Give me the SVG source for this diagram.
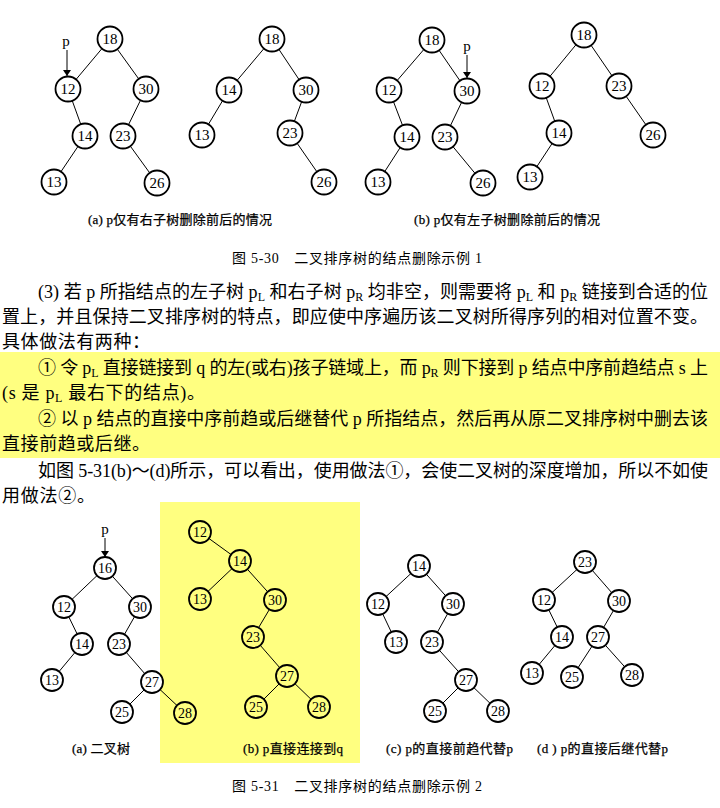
<svg xmlns="http://www.w3.org/2000/svg" width="720" height="808" viewBox="0 0 720 808">
<style>
.e{stroke:#000;stroke-width:1;fill:none}
.n circle{fill:#fff;stroke:#000;stroke-width:1.8}
.y circle{fill:#FFFF80}
.n text{font-family:"Liberation Serif",serif;font-size:15px;text-anchor:middle;dominant-baseline:central}
.s text{font-size:14px}
.t{font-family:"Liberation Serif","Noto Sans CJK SC",serif;font-size:18px;fill:#000}
.c{font-family:"Liberation Serif","Noto Sans CJK SC",serif;font-size:13px;fill:#000;stroke:#000;stroke-width:0.25}
.f{font-family:"Liberation Serif","Noto Sans CJK SC",serif;font-size:14px;fill:#000}
.pl{font-family:"Liberation Serif",serif;font-size:15px;text-anchor:middle}
</style>
<defs>
<marker id="ah" viewBox="0 0 6 10" refX="6" refY="5" markerWidth="6" markerHeight="10" orient="auto" markerUnits="userSpaceOnUse">
<path d="M0,1 L6,5 L0,9 Z" fill="#000"/>
</marker>
</defs>
<rect x="0" y="0" width="720" height="808" fill="#fff"/>
<rect x="0" y="352" width="720" height="106" fill="#FFFF80"/>
<rect x="160" y="502" width="200" height="261" fill="#FFFF80"/>

<g id="connectors">
<line class="e" x1="110" y1="39" x2="68" y2="89"/>
<line class="e" x1="110" y1="39" x2="146" y2="89"/>
<line class="e" x1="68" y1="89" x2="85" y2="136"/>
<line class="e" x1="85" y1="136" x2="54" y2="182"/>
<line class="e" x1="146" y1="89" x2="123" y2="136"/>
<line class="e" x1="123" y1="136" x2="157" y2="183"/>
<line class="e" x1="67" y1="50" x2="67" y2="76" marker-end="url(#ah)"/>
<line class="e" x1="272" y1="39" x2="229" y2="90"/>
<line class="e" x1="272" y1="39" x2="306" y2="90"/>
<line class="e" x1="229" y1="90" x2="202" y2="135"/>
<line class="e" x1="306" y1="90" x2="290" y2="133"/>
<line class="e" x1="290" y1="133" x2="324" y2="182"/>
<line class="e" x1="432" y1="40" x2="389" y2="90"/>
<line class="e" x1="432" y1="40" x2="467" y2="91"/>
<line class="e" x1="389" y1="90" x2="407" y2="137"/>
<line class="e" x1="407" y1="137" x2="378" y2="182"/>
<line class="e" x1="467" y1="91" x2="445" y2="137"/>
<line class="e" x1="445" y1="137" x2="483" y2="183"/>
<line class="e" x1="467" y1="55" x2="467" y2="78" marker-end="url(#ah)"/>
<line class="e" x1="584" y1="35" x2="542" y2="86"/>
<line class="e" x1="584" y1="35" x2="619" y2="86"/>
<line class="e" x1="542" y1="86" x2="559" y2="133"/>
<line class="e" x1="559" y1="133" x2="530" y2="177"/>
<line class="e" x1="619" y1="86" x2="653" y2="135"/>
<line class="e" x1="105" y1="568" x2="64" y2="607"/>
<line class="e" x1="105" y1="568" x2="140" y2="607"/>
<line class="e" x1="64" y1="607" x2="82" y2="644"/>
<line class="e" x1="82" y1="644" x2="52" y2="680"/>
<line class="e" x1="140" y1="607" x2="119" y2="644"/>
<line class="e" x1="119" y1="644" x2="152" y2="682"/>
<line class="e" x1="152" y1="682" x2="122" y2="712"/>
<line class="e" x1="152" y1="682" x2="185" y2="713"/>
<line class="e" x1="105" y1="538" x2="105" y2="557" marker-end="url(#ah)"/>
<line class="e" x1="200" y1="532" x2="240" y2="561"/>
<line class="e" x1="240" y1="561" x2="200" y2="599"/>
<line class="e" x1="240" y1="561" x2="275" y2="600"/>
<line class="e" x1="275" y1="600" x2="253" y2="637"/>
<line class="e" x1="253" y1="637" x2="287" y2="676"/>
<line class="e" x1="287" y1="676" x2="256" y2="707"/>
<line class="e" x1="287" y1="676" x2="319" y2="707"/>
<line class="e" x1="419" y1="566" x2="378" y2="604"/>
<line class="e" x1="419" y1="566" x2="453" y2="604"/>
<line class="e" x1="378" y1="604" x2="396" y2="642"/>
<line class="e" x1="453" y1="604" x2="432" y2="642"/>
<line class="e" x1="432" y1="642" x2="466" y2="680"/>
<line class="e" x1="466" y1="680" x2="435" y2="711"/>
<line class="e" x1="466" y1="680" x2="498" y2="711"/>
<line class="e" x1="585" y1="562" x2="544" y2="600"/>
<line class="e" x1="585" y1="562" x2="619" y2="601"/>
<line class="e" x1="544" y1="600" x2="562" y2="637"/>
<line class="e" x1="562" y1="637" x2="532" y2="673"/>
<line class="e" x1="619" y1="601" x2="598" y2="637"/>
<line class="e" x1="598" y1="637" x2="572" y2="677"/>
<line class="e" x1="598" y1="637" x2="632" y2="675"/>
</g>

<g id="tree-a-before" class="n">
<g id="a1-18"><circle cx="110" cy="39" r="12.5"/><text x="110" y="39">18</text></g>
<g id="a1-12"><circle cx="68" cy="89" r="12.5"/><text x="68" y="89">12</text></g>
<g id="a1-30"><circle cx="146" cy="89" r="12.5"/><text x="146" y="89">30</text></g>
<g id="a1-14"><circle cx="85" cy="136" r="12.5"/><text x="85" y="136">14</text></g>
<g id="a1-23"><circle cx="123" cy="136" r="12.5"/><text x="123" y="136">23</text></g>
<g id="a1-13"><circle cx="54" cy="182" r="12.5"/><text x="54" y="182">13</text></g>
<g id="a1-26"><circle cx="157" cy="183" r="12.5"/><text x="157" y="183">26</text></g>
</g>
<text class="pl" x="66" y="46">p</text>

<g id="tree-a-after" class="n">
<g id="a2-18"><circle cx="272" cy="39" r="12.5"/><text x="272" y="39">18</text></g>
<g id="a2-14"><circle cx="229" cy="90" r="12.5"/><text x="229" y="90">14</text></g>
<g id="a2-30"><circle cx="306" cy="90" r="12.5"/><text x="306" y="90">30</text></g>
<g id="a2-13"><circle cx="202" cy="135" r="12.5"/><text x="202" y="135">13</text></g>
<g id="a2-23"><circle cx="290" cy="133" r="12.5"/><text x="290" y="133">23</text></g>
<g id="a2-26"><circle cx="324" cy="182" r="12.5"/><text x="324" y="182">26</text></g>
</g>

<g id="tree-b-before" class="n">
<g id="b1-18"><circle cx="432" cy="40" r="12.5"/><text x="432" y="40">18</text></g>
<g id="b1-12"><circle cx="389" cy="90" r="12.5"/><text x="389" y="90">12</text></g>
<g id="b1-30"><circle cx="467" cy="91" r="12.5"/><text x="467" y="91">30</text></g>
<g id="b1-14"><circle cx="407" cy="137" r="12.5"/><text x="407" y="137">14</text></g>
<g id="b1-23"><circle cx="445" cy="137" r="12.5"/><text x="445" y="137">23</text></g>
<g id="b1-13"><circle cx="378" cy="182" r="12.5"/><text x="378" y="182">13</text></g>
<g id="b1-26"><circle cx="483" cy="183" r="12.5"/><text x="483" y="183">26</text></g>
</g>
<text class="pl" x="467" y="51">p</text>

<g id="tree-b-after" class="n">
<g id="b2-18"><circle cx="584" cy="35" r="12.5"/><text x="584" y="35">18</text></g>
<g id="b2-12"><circle cx="542" cy="86" r="12.5"/><text x="542" y="86">12</text></g>
<g id="b2-23"><circle cx="619" cy="86" r="12.5"/><text x="619" y="86">23</text></g>
<g id="b2-14"><circle cx="559" cy="133" r="12.5"/><text x="559" y="133">14</text></g>
<g id="b2-26"><circle cx="653" cy="135" r="12.5"/><text x="653" y="135">26</text></g>
<g id="b2-13"><circle cx="530" cy="177" r="12.5"/><text x="530" y="177">13</text></g>
</g>

<text class="c" x="88" y="224" textLength="184">(a) p仅有右子树删除前后的情况</text>
<text class="c" x="414" y="224" textLength="186">(b) p仅有左子树删除前后的情况</text>
<text class="f" x="232" y="263" textLength="250">图 5-30　二叉排序树的结点删除示例 1</text>

<text class="t" x="38" y="298" textLength="670">(3) 若 p 所指结点的左子树 p<tspan dy="3" font-size="12">L</tspan><tspan dy="-3"> 和右子树 p</tspan><tspan dy="3" font-size="12">R</tspan><tspan dy="-3"> 均非空，则需要将 p</tspan><tspan dy="3" font-size="12">L</tspan><tspan dy="-3"> 和 p</tspan><tspan dy="3" font-size="12">R</tspan><tspan dy="-3"> 链接到合适的位</tspan></text>
<text class="t" x="2" y="323" textLength="706">置上，并且保持二叉排序树的特点，即应使中序遍历该二叉树所得序列的相对位置不变。</text>
<text class="t" x="2" y="348" textLength="148">具体做法有两种：</text>
<text class="t" x="38" y="374" textLength="670">① 令 p<tspan dy="3" font-size="12">L</tspan><tspan dy="-3"> 直接链接到 q 的左(或右)孩子链域上，而 p</tspan><tspan dy="3" font-size="12">R</tspan><tspan dy="-3"> 则下接到 p 结点中序前趋结点 s 上</tspan></text>
<text class="t" x="2" y="399" textLength="203">(s 是 p<tspan dy="3" font-size="12">L</tspan><tspan dy="-3"> 最右下的结点)。</tspan></text>
<text class="t" x="38" y="425" textLength="670">② 以 p 结点的直接中序前趋或后继替代 p 所指结点，然后再从原二叉排序树中删去该</text>
<text class="t" x="2" y="450" textLength="148">直接前趋或后继。</text>
<text class="t" x="38" y="477" textLength="670">如图 5-31(b)～(d)所示，可以看出，使用做法①，会使二叉树的深度增加，所以不如使</text>
<text class="t" x="2" y="502" textLength="93">用做法②。</text>

<g id="tree2-a" class="n s">
<g id="c1-16"><circle cx="105" cy="568" r="11"/><text x="105" y="568">16</text></g>
<g id="c1-12"><circle cx="64" cy="607" r="11"/><text x="64" y="607">12</text></g>
<g id="c1-30"><circle cx="140" cy="607" r="11"/><text x="140" y="607">30</text></g>
<g id="c1-14"><circle cx="82" cy="644" r="11"/><text x="82" y="644">14</text></g>
<g id="c1-23"><circle cx="119" cy="644" r="11"/><text x="119" y="644">23</text></g>
<g id="c1-13"><circle cx="52" cy="680" r="11"/><text x="52" y="680">13</text></g>
<g id="c1-27"><circle cx="152" cy="682" r="11"/><text x="152" y="682">27</text></g>
<g id="c1-25"><circle cx="122" cy="712" r="11"/><text x="122" y="712">25</text></g>
<g id="c1-28" class="y"><circle cx="185" cy="713" r="11"/><text x="185" y="713">28</text></g>
</g>
<text class="pl" x="105" y="534">p</text>

<g id="tree2-b" class="n s y">
<g id="c2-12"><circle cx="200" cy="532" r="11"/><text x="200" y="532">12</text></g>
<g id="c2-14"><circle cx="240" cy="561" r="11"/><text x="240" y="561">14</text></g>
<g id="c2-13"><circle cx="200" cy="599" r="11"/><text x="200" y="599">13</text></g>
<g id="c2-30"><circle cx="275" cy="600" r="11"/><text x="275" y="600">30</text></g>
<g id="c2-23"><circle cx="253" cy="637" r="11"/><text x="253" y="637">23</text></g>
<g id="c2-27"><circle cx="287" cy="676" r="11"/><text x="287" y="676">27</text></g>
<g id="c2-25"><circle cx="256" cy="707" r="11"/><text x="256" y="707">25</text></g>
<g id="c2-28"><circle cx="319" cy="707" r="11"/><text x="319" y="707">28</text></g>
</g>

<g id="tree2-c" class="n s">
<g id="c3-14"><circle cx="419" cy="566" r="11"/><text x="419" y="566">14</text></g>
<g id="c3-12"><circle cx="378" cy="604" r="11"/><text x="378" y="604">12</text></g>
<g id="c3-30"><circle cx="453" cy="604" r="11"/><text x="453" y="604">30</text></g>
<g id="c3-13"><circle cx="396" cy="642" r="11"/><text x="396" y="642">13</text></g>
<g id="c3-23"><circle cx="432" cy="642" r="11"/><text x="432" y="642">23</text></g>
<g id="c3-27"><circle cx="466" cy="680" r="11"/><text x="466" y="680">27</text></g>
<g id="c3-25"><circle cx="435" cy="711" r="11"/><text x="435" y="711">25</text></g>
<g id="c3-28"><circle cx="498" cy="711" r="11"/><text x="498" y="711">28</text></g>
</g>

<g id="tree2-d" class="n s">
<g id="c4-23"><circle cx="585" cy="562" r="11"/><text x="585" y="562">23</text></g>
<g id="c4-12"><circle cx="544" cy="600" r="11"/><text x="544" y="600">12</text></g>
<g id="c4-30"><circle cx="619" cy="601" r="11"/><text x="619" y="601">30</text></g>
<g id="c4-14"><circle cx="562" cy="637" r="11"/><text x="562" y="637">14</text></g>
<g id="c4-27"><circle cx="598" cy="637" r="11"/><text x="598" y="637">27</text></g>
<g id="c4-13"><circle cx="532" cy="673" r="11"/><text x="532" y="673">13</text></g>
<g id="c4-25"><circle cx="572" cy="677" r="11"/><text x="572" y="677">25</text></g>
<g id="c4-28"><circle cx="632" cy="675" r="11"/><text x="632" y="675">28</text></g>
</g>

<text class="c" x="72" y="753" textLength="58">(a) 二叉树</text>
<text class="c" x="243" y="753" textLength="100">(b) p直接连接到q</text>
<text class="c" x="386" y="753" textLength="127">(c) p的直接前趋代替p</text>
<text class="c" x="537" y="753" textLength="131">(d ) p的直接后继代替p</text>
<text class="f" x="232" y="791" textLength="250">图 5-31　二叉排序树的结点删除示例 2</text>
</svg>
